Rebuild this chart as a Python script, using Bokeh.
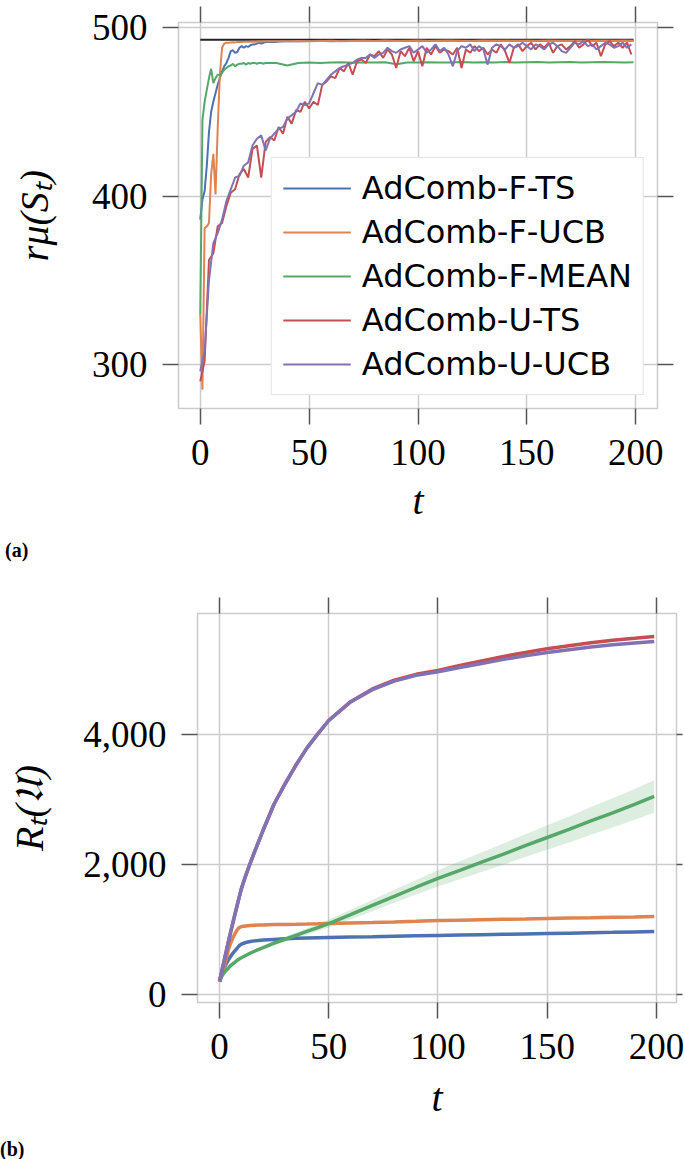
from bokeh.plotting import figure
from bokeh.models import (Range1d, FixedTicker, LinearAxis, NumeralTickFormatter, Div,
                          CustomJSTickFormatter, Spacer)
from bokeh.layouts import column, row
from bokeh.embed import file_html
from bokeh.resources import INLINE

# ---------------- data: panel (a) ----------------
series_names = ["AdComb-F-TS", "AdComb-F-UCB", "AdComb-F-MEAN", "AdComb-U-TS", "AdComb-U-UCB"]
colors = ["#4C72B0", "#DD8452", "#55A868", "#C44E52", "#8172B3"]

t_opt = [0, 199]
opt_reward = [492.7, 492.7]

t_f = list(range(0, 31)) + list(range(35, 200, 5)) + [199]
f_ts = [386, 398, 403, 418, 438, 450, 456, 461, 466, 470, 474, 477, 479, 482, 486, 486.5,
        485, 485.5, 488, 489, 488, 489, 488.5, 489.5, 490, 490, 490.5, 491, 490.5, 491, 491.5,
        491.5, 492, 491.8, 492, 492.2, 491.9, 492, 492.2, 492.1, 492, 492.3, 492.2, 492,
        492.3, 492.1, 492.2, 492.3, 492, 492.2, 492.3, 492.1, 492.2, 492.3, 492.2, 492,
        492.3, 492.2, 492.3, 492.1, 492.2, 492.3, 492.2, 492.3, 492.2]
f_ucb = [330, 285, 381, 382, 384, 413, 425, 401, 440, 472, 488, 490.5, 491, 491, 491.2, 491.3,
         491.2, 491.4, 491.5, 491.4, 491.5, 491.6, 491.5, 491.6, 491.7, 491.6, 491.7, 491.8,
         491.7, 491.8, 491.8,
         491.9, 491.8, 492, 491.9, 492, 492.1, 491.9, 492, 492.1, 492, 492.2, 492, 492.1,
         492.2, 492, 492.1, 492.2, 492.1, 492, 492.2, 492.1, 492.2, 492, 492.1, 492.2, 492.1,
         492.2, 492, 492.2, 492.1, 492.2, 492.1, 492.2, 492.2]
f_mean = [330, 445, 456, 463, 470, 475.5, 467, 470, 472, 472, 473, 475, 476, 477, 477.5, 478.5,
          477, 478, 478.5, 478.5, 479, 478, 479, 478.5, 479, 479, 478.5, 479, 479, 478.5, 479,
          479, 477.5, 479, 479.3, 479, 479.2, 479.4, 479.1, 479.3, 479.2, 479.4, 478.2, 479.3,
          479.2, 479.4, 479.3, 479.2, 479.5, 479.3, 479.4, 479.2, 479.5, 479.3, 479.4, 479.5,
          479.3, 479.4, 479.5, 479.3, 479.4, 479.5, 479.4, 479.3, 479.4]

t_u = list(range(0, 200, 2))
u_ts = [290, 302, 362, 366, 382, 384, 394, 402, 404, 413,
        416, 411, 428, 430, 411, 432, 435, 433, 441, 437,
        447, 443, 451, 450, 456, 452, 456, 454, 466, 468,
        471, 470, 476, 474, 479, 472, 480, 481, 479, 484,
        483, 486, 482, 487, 484, 476, 486, 483, 488, 480,
        486, 477, 488, 484, 489, 485, 487, 486, 484, 488,
        476, 487, 485, 489, 486, 488, 484, 487, 485, 490,
        486, 479, 488, 490, 486, 489, 491, 487, 490, 488,
        491, 485, 489, 490, 487, 489, 492, 488, 490, 493,
        489, 491, 483, 490, 492, 489, 491, 488, 491, 484]
u_ucb = [296, 308, 350, 372, 378, 386, 397, 404, 411, 412,
         418, 420, 430, 434, 436, 427, 434, 437, 440, 441,
         446, 448, 450, 455, 454, 455, 461, 467, 466, 469,
         472, 474, 476, 477, 478, 479, 481, 482, 482, 484,
         482, 484, 485, 488, 486, 485, 487, 488, 489, 485,
         487, 489, 485, 487, 490, 486, 488, 484, 477, 486,
         489, 488, 490, 486, 489, 487, 478, 488, 490, 489,
         487, 490, 488, 489, 491, 489, 487, 490, 489, 487,
         490, 491, 489, 486, 485, 488, 491, 490, 492, 489,
         490, 487, 489, 491, 490, 488, 489, 491, 488, 490]

# ---------------- data: panel (b) ----------------
t_b = [0, 1, 2, 3, 4, 5, 6, 7, 8, 9, 10, 12, 14, 16, 18, 20, 25, 30, 35, 40, 45, 50,
       60, 70, 80, 90, 100, 110, 120, 130, 140, 150, 160, 170, 180, 190, 199]
reg_f_ts = [200, 300, 390, 470, 530, 580, 630, 670, 708, 750, 775, 800, 815, 825, 832, 838,
            848, 858, 864, 869, 873, 877, 883, 889, 896, 902, 908, 914, 920, 926, 932, 938,
            944, 950, 956, 963, 969]
reg_f_ucb = [200, 290, 400, 540, 680, 780, 860, 930, 990, 1030, 1045, 1055, 1060, 1065, 1068,
             1070, 1075, 1078, 1080, 1083, 1087, 1092, 1100, 1108, 1117, 1127, 1138, 1144,
             1150, 1156, 1162, 1169, 1175, 1181, 1188, 1194, 1200]
reg_f_mean = [200, 280, 330, 370, 405, 440, 470, 495, 523, 545, 565, 600, 635, 665, 695, 720,
              790, 850, 910, 970, 1030, 1092, 1230, 1370, 1510, 1650, 1785, 1910, 2035, 2160,
              2290, 2415, 2540, 2670, 2795, 2925, 3046]
reg_f_mean_sd = [0, 2, 3, 4, 5, 6, 7, 8, 10, 11, 12, 15, 17, 20, 22, 25, 31, 37, 44, 50, 56,
                 62, 75, 88, 100, 112, 125, 138, 150, 163, 175, 188, 200, 213, 225, 238, 250]
reg_u_ts = [200, 350, 500, 650, 800, 945, 1085, 1225, 1360, 1495, 1625, 1830, 2015, 2190,
            2360, 2530, 2930, 3240, 3530, 3790, 4010, 4215, 4505, 4700, 4835, 4925, 4985,
            5060, 5130, 5200, 5262, 5318, 5365, 5410, 5450, 5480, 5508]
reg_u_ucb = [200, 350, 500, 650, 800, 945, 1085, 1225, 1360, 1495, 1625, 1830, 2015, 2190,
             2360, 2530, 2930, 3240, 3530, 3790, 4010, 4215, 4500, 4690, 4820, 4910, 4965,
             5030, 5093, 5155, 5210, 5261, 5305, 5345, 5380, 5408, 5431]

x_ticks = [0, 50, 100, 150, 200]
y_ticks_a = [300, 400, 500]
y_ticks_b = [0, 2000, 4000]

# ---------------- styling ----------------
SERIF = "Liberation Serif"
TICK = "#555555"
GRID = "#cccccc"


def style(p, xt, yt, right_out):
    xa = p.below[0]
    ya = p.left[0]
    xa.ticker = FixedTicker(ticks=xt)
    ya.ticker = FixedTicker(ticks=yt)
    p.xgrid.ticker = FixedTicker(ticks=xt)
    p.ygrid.ticker = FixedTicker(ticks=yt)
    for g in (p.xgrid, p.ygrid):
        g.grid_line_color = GRID
        g.grid_line_width = 1.5
    p.outline_line_color = GRID
    p.outline_line_width = 1.5
    for ax in (xa, ya):
        ax.axis_line_color = None
        ax.major_tick_out = 16
        ax.major_tick_in = 0
        ax.minor_tick_out = 0
        ax.minor_tick_in = 0
        ax.major_tick_line_color = TICK
        ax.major_tick_line_width = 1.5
        ax.major_label_text_font = SERIF
        ax.major_label_text_font_size = "37px"
        ax.major_label_text_color = "black"
        ax.major_label_standoff = 15
        ax.axis_label_text_font = SERIF
        ax.axis_label_text_font_style = "italic"
        ax.axis_label_text_font_size = "40px"
        ax.axis_label_text_color = "black"
    for loc, ticks, out in (("above", xt, 16), ("right", yt, right_out)):
        ax = LinearAxis(ticker=FixedTicker(ticks=ticks), axis_line_color=None,
                        major_tick_out=out, major_tick_in=0, minor_tick_out=0, minor_tick_in=0,
                        major_tick_line_color=TICK, major_tick_line_width=1.5,
                        formatter=CustomJSTickFormatter(code="return ''"),
                        major_label_text_color=None, major_label_text_font_size="1px",
                        major_label_standoff=0)
        p.add_layout(ax, loc)
    return xa, ya


# ---------------- panel (a) ----------------
p1 = figure(width=684, height=530, x_range=Range1d(-10, 210), y_range=Range1d(273.9, 503),
            output_backend="svg", toolbar_location=None,
            min_border_left=178, min_border_right=27, min_border_top=22, min_border_bottom=122)
xa1, ya1 = style(p1, x_ticks, y_ticks_a, 16)
xa1.axis_label = "t"
xa1.axis_label_standoff = 10
ya1.axis_label = "rμ(Sₜ)"
ya1.axis_label_standoff = 32

p1.line(t_opt, opt_reward, line_color="#222222", line_width=2)
top_series = [(t_f, f_ts), (t_f, f_ucb), (t_f, f_mean), (t_u, u_ts), (t_u, u_ucb)]
for (xs, ys), name, c in zip(top_series, series_names, colors):
    p1.line(xs, ys, line_color=c, line_width=2, legend_label=name)

lg = p1.legend[0]
lg.location = "bottom_right"
lg.margin = 13
lg.padding = 11
lg.spacing = 6
lg.glyph_width = 68
lg.glyph_height = 38
lg.label_standoff = 11
lg.label_text_font = "DejaVu Sans"
lg.label_text_font_size = "32px"
lg.label_text_color = "black"
lg.border_line_color = GRID
lg.border_line_width = 1.5
lg.background_fill_alpha = 1.0

# ---------------- panel (b) ----------------
p2 = figure(width=683, height=555, x_range=Range1d(-10.07, 209.2), y_range=Range1d(-123, 5861),
            output_backend="svg", toolbar_location=None,
            min_border_left=196, min_border_right=8, min_border_top=38, min_border_bottom=128)
xa2, ya2 = style(p2, x_ticks, y_ticks_b, 6)
ya2.formatter = NumeralTickFormatter(format="0,0")
xa2.axis_label = "t"
xa2.axis_label_standoff = 13
ya2.axis_label = "Rₜ(𝔘)"
ya2.axis_label_standoff = 28

lo = [m - s for m, s in zip(reg_f_mean, reg_f_mean_sd)]
hi = [m + s for m, s in zip(reg_f_mean, reg_f_mean_sd)]
p2.varea(x=t_b, y1=lo, y2=hi, fill_color=colors[2], fill_alpha=0.2)
bottom_series = [reg_f_ts, reg_f_ucb, reg_f_mean, reg_u_ts, reg_u_ucb]
for ys, c in zip(bottom_series, colors):
    p2.line(t_b, ys, line_color=c, line_width=3.5)

span = '<span style="font-family:\'Liberation Serif\'; font-weight:bold; font-size:20px; color:black;">{}</span>'
div_a = Div(text=span.format("(a)"), width=684, height=45, margin=(0, 0, 0, 0),
            styles={"padding-top": "6px", "padding-left": "5px"})
div_b = Div(text=span.format("(b)"), width=684, height=29, margin=(0, 0, 0, 0),
            styles={"padding-top": "5px", "padding-left": "0px"})

row_b = row(Spacer(width=1, height=555, margin=(0, 0, 0, 0)), p2, spacing=0)
layout = column(p1, div_a, row_b, div_b, spacing=0)
open("out.html", "w").write(file_html(layout, INLINE))
